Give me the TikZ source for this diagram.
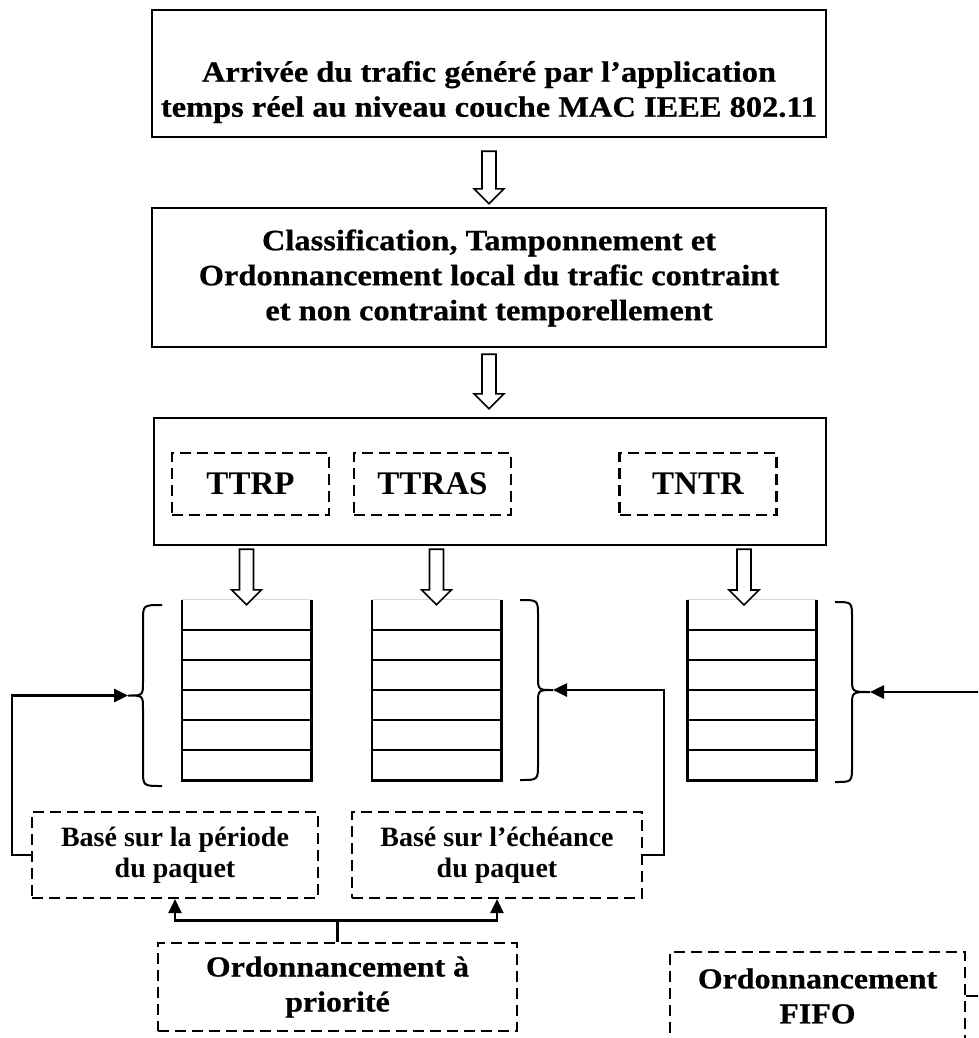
\documentclass[tikz,border=0pt]{standalone}
\usepackage{fontspec}
\setmainfont{Liberation Serif}
\newfontfamily\geofont[FakeStretch=1.1,FakeBold=0.6]{Liberation Serif}
\usetikzlibrary{arrows.meta,calc}

% hollow block arrow from point #1 (top of shaft) to point #2 (tip)
\newcommand\hollowarrow[2]{%
  \draw[hollow] let \p1=#1, \p2=#2 in
    (\x1-7pt,\y1) -- (\x1-7pt,\y2+15pt) -- (\x1-15pt,\y2+15pt) -- (\x1,\y2)
    -- (\x1+15pt,\y2+15pt) -- (\x1+7pt,\y2+15pt) -- (\x1+7pt,\y1) -- cycle;}

% curly brace: end x #1, spine x #2, tip x #3, top y #4, bottom y #5, middle y #6
\newcommand\curlybrace[6]{%
  \draw[bracel] (#1,#4) .. controls (#2,#4) .. (#2,{#4+16}) -- (#2,{#6-14})
    .. controls (#2,#6) .. (#3,#6) .. controls (#2,#6) .. (#2,{#6+14})
    -- (#2,{#5-16}) .. controls (#2,#5) .. (#1,#5);}

% a six-slot queue drawn on an empty node
\newcommand\queuebox[1]{%
  \draw[black!15,line width=1pt] (#1.north west) -- (#1.north east);
  \draw[qline] (#1.north west) -- (#1.south west) -- (#1.south east) -- (#1.north east);
  \foreach \k in {1,...,5}
    \draw[qline] ($(#1.north west)!\k/6!(#1.south west)$) -- ($(#1.north east)!\k/6!(#1.south east)$);}

\begin{document}
\begin{tikzpicture}[x=1pt,y=-1pt,
  solidbox/.style={draw,line width=2.4pt,inner sep=0pt},
  dashbox/.style={draw,line width=2.1pt,dash pattern=on 11pt off 6pt,inner sep=0pt,align=center},
  geotext/.style={align=center,inner sep=0pt,font=\geofont\bfseries\fontsize{29.5}{35}\selectfont},
  labeltext/.style={font=\bfseries\fontsize{33}{36}\selectfont},
  smalltext/.style={font=\bfseries\fontsize{28}{31}\selectfont},
  bigtext/.style={font=\geofont\bfseries\fontsize{29}{35}\selectfont},
  hollow/.style={draw,line width=1.6pt,fill=white},
  bracel/.style={draw,line width=2pt},
  qline/.style={line width=2.6pt},
  queue/.style={minimum width=129pt,minimum height=180pt,inner sep=0pt},
  conn/.style={line width=2.6pt},
  tip/.style={-{Triangle[length=14pt,width=13pt]}}
]
\useasboundingbox (0,0) rectangle (978,1038);
\clip (0,0) rectangle (978,1038);

% upper processing boxes
\node[solidbox,minimum width=674pt,minimum height=127pt] (b1) at (489,73.5) {};
\node[geotext] (b1t) at (489,92) {Arrivée du trafic généré par l’application\\temps réel au niveau couche MAC IEEE 802.11};

\node[solidbox,minimum width=674pt,minimum height=139pt] (b2) at (489,277.5) {};
\node[geotext] (b2t) at (489,278) {Classification, Tamponnement et\\Ordonnancement local du trafic contraint\\et non contraint temporellement};

\node[solidbox,minimum width=672pt,minimum height=127pt] (b3) at (490,481.5) {};
\node[dashbox,labeltext,minimum width=157pt,minimum height=62pt] (c1) at (250.5,484) {TTRP};
\node[dashbox,labeltext,minimum width=157pt,minimum height=62pt] (c2) at (432.5,484) {TTRAS};
\node[dashbox,labeltext,minimum width=157pt,minimum height=62pt] (c3) at (698,484) {TNTR};

\hollowarrow{($(b1.south)+(0,13)$)}{($(b2.north)+(0,-3)$)}
\hollowarrow{($(b2.south)+(0,6)$)}{($(b3.north)+(0,-8)$)}

% queues
\node[queue] (q1) at (246.5,690) {};
\node[queue] (q2) at (436.5,690) {};
\node[queue] (q3) at (752,690) {};
\queuebox{q1}
\queuebox{q2}
\queuebox{q3}

\coordinate (a3) at (744,600);
\hollowarrow{($(b3.south -| q1.north)+(0,3)$)}{($(q1.north)+(0,5)$)}
\hollowarrow{($(b3.south -| q2.north)+(0,3)$)}{($(q2.north)+(0,5)$)}
\hollowarrow{($(b3.south -| a3)+(0,3)$)}{($(a3)+(0,5)$)}

% braces grouping the queues
\curlybrace{162}{143}{128}{605}{786}{695.5}
\curlybrace{520}{538}{553}{600}{780}{690}
\curlybrace{835}{852}{870}{602}{782}{692}
\coordinate (br1) at (128,695.5);
\coordinate (br2) at (553,690);
\coordinate (br3) at (870,692);

% scheduling policies
\node[dashbox,smalltext,minimum width=286pt,minimum height=86pt] (pa) at (175,855) {Basé sur la période\\du paquet};
\node[dashbox,smalltext,minimum width=290pt,minimum height=86pt] (pb) at (497,855) {Basé sur l’échéance\\du paquet};
\node[dashbox,bigtext,minimum width=359pt,minimum height=88pt] (prio) at (337.5,987) {Ordonnancement à\\priorité};
\node[dashbox,bigtext,minimum width=295pt,minimum height=88pt] (fifo) at (817.5,996) {Ordonnancement\\FIFO};

% connectors
\draw[conn,tip] (pa.west) -- ++(-19,0) |- (br1);
\draw[conn,tip] (pb.east) -- ++(21,0) |- (br2);
\draw[conn,tip] (fifo.east) -- ++(25,0) |- (br3);
\draw[conn] (prio.north) -- ++(0,-21.5) coordinate (j);
\draw[conn,tip] (j) -| (pa.south);
\draw[conn,tip] (j) -| (pb.south);
\end{tikzpicture}
\end{document}
